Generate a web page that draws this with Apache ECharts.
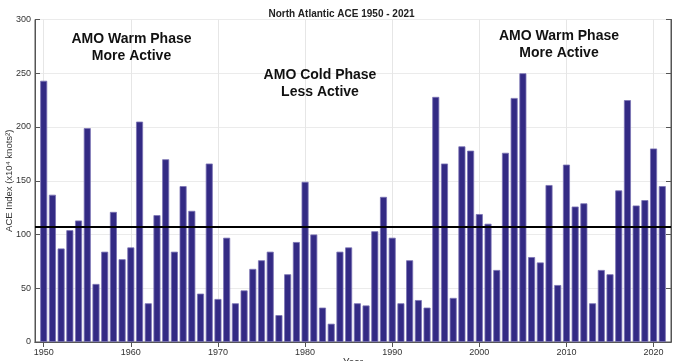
<!DOCTYPE html>
<html><head><meta charset="utf-8">
<script src="https://cdn.jsdelivr.net/npm/echarts@6/dist/echarts.min.js"></script>
<style>html,body{margin:0;padding:0;background:#fff}#c{width:683px;height:361px}</style>
</head><body><div id="c"></div>
<script>
const years = [1950,1951,1952,1953,1954,1955,1956,1957,1958,1959,1960,1961,1962,1963,1964,1965,1966,1967,1968,1969,1970,1971,1972,1973,1974,1975,1976,1977,1978,1979,1980,1981,1982,1983,1984,1985,1986,1987,1988,1989,1990,1991,1992,1993,1994,1995,1996,1997,1998,1999,2000,2001,2002,2003,2004,2005,2006,2007,2008,2009,2010,2011,2012,2013,2014,2015,2016,2017,2018,2019,2020,2021];
const ace = [243,137,87,104,113,199,54,84,121,77,88,205,36,118,170,84,145,122,45,166,40,97,36,48,68,76,84,25,63,93,149,100,32,17,84,88,36,34,103,135,97,36,76,39,32,228,166,41,182,178,119,110,67,176,227,250,79,74,146,53,165,126,129,36,67,63,141,225,127,132,180,145];
const meanACE = 107;
const xTicks = [1950,1960,1970,1980,1990,2000,2010,2020];

const chart = echarts.init(document.getElementById('c'));
const axisCol = '#555';
const font = 'Liberation Sans, Arial, sans-serif';
chart.setOption({
  animation: false,
  title: {text: 'North Atlantic ACE 1950 - 2021', left: 'center', top: 4,
    textStyle: {fontSize: 10, fontWeight: 'bold', color: '#222', fontFamily: font}},
  grid: {left: 35, right: 12, top: 19.5, bottom: 19, outerBoundsMode: 'none', containLabel: false,
    show: true, borderColor: axisCol, borderWidth: 1, backgroundColor: '#fff'},
  xAxis: [{
    type: 'value', min: 1949, max: 2022, position: 'bottom',
    name: 'Year', nameLocation: 'middle', nameGap: 16, nameMoveOverlap: false,
    nameTextStyle: {fontSize: 10, color: '#333', fontFamily: font, verticalAlign: 'top'},
    axisLine: {show: true, lineStyle: {color: axisCol}},
    axisTick: {show: true, inside: true, length: 5, customValues: xTicks, lineStyle: {color: axisCol}},
    axisLabel: {customValues: xTicks, formatter: v => String(v), fontSize: 9, color: '#333', margin: 6, fontFamily: font},
    splitLine: {show: false}
  },{
    type: 'value', min: 1949, max: 2022, position: 'top',
    axisLine: {show: true, lineStyle: {color: axisCol}},
    axisTick: {show: true, inside: true, length: 5, customValues: xTicks, lineStyle: {color: axisCol}},
    axisLabel: {show: false},
    splitLine: {show: false}
  }],
  yAxis: [{
    type: 'value', min: 0, max: 300, interval: 50,
    name: 'ACE Index (x10\u2074 knots\u00b2)', nameLocation: 'middle', nameGap: 21, nameMoveOverlap: false,
    nameTextStyle: {fontSize: 9.5, color: '#333', fontFamily: font},
    axisLine: {show: true, lineStyle: {color: axisCol}},
    axisTick: {show: true, inside: true, length: 5, lineStyle: {color: axisCol}},
    axisLabel: {fontSize: 9, color: '#333', margin: 4, fontFamily: font},
    splitLine: {show: true, lineStyle: {color: '#ebebeb', width: 1}}
  },{
    type: 'value', min: 0, max: 300, interval: 50, position: 'right',
    axisLine: {show: true, lineStyle: {color: axisCol}},
    axisTick: {show: true, inside: true, length: 5, lineStyle: {color: axisCol}},
    axisLabel: {show: false}, splitLine: {show: false}
  }],
  series: [{
    type: 'bar', xAxisIndex: 0, yAxisIndex: 0,
    data: years.map((y, i) => [y, ace[i]]),
    barWidth: 7,
    itemStyle: {color: '#332a84', borderColor: '#7a72b4', borderWidth: 0.8},
    markLine: {
      silent: true, symbol: 'none', label: {show: false},
      lineStyle: {color: '#000', width: 2, type: 'solid'},
      data: [{yAxis: meanACE}]
    }
  },{
    type: 'line', xAxisIndex: 0, yAxisIndex: 0, data: [], silent: true, z: 0,
    markLine: {
      silent: true, symbol: 'none', label: {show: false}, z: 0,
      lineStyle: {color: '#e6e6e6', width: 1, type: 'solid'},
      data: xTicks.map(v => ({xAxis: v}))
    }
  }],
  graphic: [
    {type: 'text', x: 131.5, y: 31, z: 100, style: {text: 'AMO Warm Phase\nMore Active', textAlign: 'center', font: 'bold 14px ' + font, fill: '#111', lineHeight: 17}},
    {type: 'text', x: 320, y: 67, z: 100, style: {text: 'AMO Cold Phase\nLess Active', textAlign: 'center', font: 'bold 14px ' + font, fill: '#111', lineHeight: 17}},
    {type: 'text', x: 559, y: 28, z: 100, style: {text: 'AMO Warm Phase\nMore Active', textAlign: 'center', font: 'bold 14px ' + font, fill: '#111', lineHeight: 17}}
  ]
});
</script></body></html>
